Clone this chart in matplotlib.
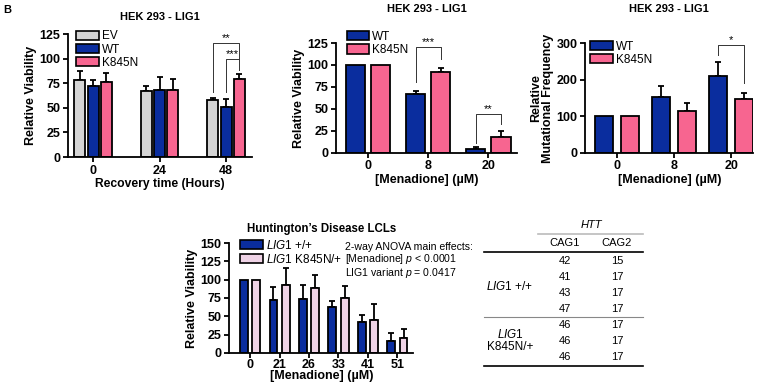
import matplotlib
matplotlib.use('Agg')
import matplotlib.pyplot as plt
import numpy as np
from matplotlib.lines import Line2D
from matplotlib.patches import Patch

plt.rcParams['font.family'] = ['Liberation Sans', 'DejaVu Sans']
plt.rcParams['mathtext.fontset'] = 'custom'
plt.rcParams['mathtext.it'] = 'Liberation Sans:italic'
plt.rcParams['mathtext.rm'] = 'Liberation Sans'
plt.rcParams['mathtext.bf'] = 'Liberation Sans:bold'

GRAY = '#d4d4d4'
BLUE = '#0a2d9e'
PINK = '#f76590'
LPINK = '#efd3e6'

# --- panel 1: recovery time ---
rec_hours = ['0', '24', '48']
rec_ev = [78, 67, 58]
rec_ev_err = [10, 5, 2]
rec_wt = [72, 68, 51]
rec_wt_err = [6, 13, 8]
rec_mut = [76, 68, 79]
rec_mut_err = [10, 11, 5]

# --- panel 2: viability vs menadione ---
men_doses = ['0', '8', '20']
via_wt = [100, 67, 4]
via_wt_err = [0, 3, 3]
via_mut = [100, 92, 18]
via_mut_err = [0, 4, 7]

# --- panel 3: mutational frequency ---
mf_wt = [100, 153, 210]
mf_wt_err = [0, 30, 38]
mf_mut = [100, 115, 146]
mf_mut_err = [0, 20, 17]

# --- panel 4: HD LCLs ---
lcl_doses = ['0', '21', '26', '33', '41', '51']
lcl_wt = [100, 72, 74, 63, 42, 16]
lcl_wt_err = [0, 18, 19, 8, 10, 11]
lcl_het = [100, 93, 89, 75, 45, 21]
lcl_het_err = [0, 23, 18, 17, 22, 11]

# --- table ---
cag1 = [42, 41, 43, 47, 46, 46, 46]
cag2 = [15, 17, 17, 17, 17, 17, 17]

LW = 1.3


def bars(ax, x, vals, errs, off, w, color):
    ax.bar(x + off, vals, w, color=color, edgecolor='black', linewidth=LW, zorder=2)
    errs = np.array(errs, dtype=float)
    m = errs > 0
    ax.errorbar((x + off)[m], np.array(vals)[m], yerr=[np.zeros(m.sum()), errs[m]],
                fmt='none', ecolor='black', elinewidth=LW, capsize=2.5,
                capthick=LW, zorder=1)


def style(ax, ticks, labels, ylim, yticks, pad=2):
    for s in ['top', 'right']:
        ax.spines[s].set_visible(False)
    for s in ['left', 'bottom']:
        ax.spines[s].set_linewidth(LW)
    ax.set_ylim(*ylim)
    ax.set_yticks(yticks)
    ax.set_xticks(ticks)
    ax.set_xticklabels(labels)
    ax.tick_params(width=LW, length=3.5, labelsize=9, pad=2)
    ax.tick_params(axis='x', pad=pad)
    for t in ax.get_xticklabels() + ax.get_yticklabels():
        t.set_fontweight('bold')


def bracket(ax, x1, x2, y, y1, y2, txt):
    ax.plot([x1, x1, x2, x2], [y1, y, y, y2], color='#333333', lw=0.7, zorder=3)
    ax.text((x1 + x2) / 2, y, txt, ha='center', va='bottom', fontsize=8)


def legend(ax, handles, labels, anchor, fs=8.5):
    ax.legend(handles, labels, loc='upper left', bbox_to_anchor=anchor, frameon=False,
              fontsize=fs, handlelength=1.9, handleheight=0.8, labelspacing=0.1,
              handletextpad=0.25, borderaxespad=0, borderpad=0)


def patches(colors):
    return [Patch(facecolor=c, edgecolor='black', linewidth=1.2) for c in colors]


fig = plt.figure(figsize=(7.64, 3.84), dpi=100)
fig.text(0.004, 0.988, 'B', fontsize=8, fontweight='bold', va='top')

# panel 1
ax1 = fig.add_axes([0.089, 0.591, 0.241, 0.320])
x = np.arange(len(rec_hours))
bars(ax1, x, rec_ev, rec_ev_err, -0.2, 0.165, GRAY)
bars(ax1, x, rec_wt, rec_wt_err, 0.0, 0.165, BLUE)
bars(ax1, x, rec_mut, rec_mut_err, 0.2, 0.165, PINK)
style(ax1, x, rec_hours, (0, 125), [0, 25, 50, 75, 100, 125])
ax1.set_xlim(-0.376, 2.39)
bracket(ax1, 1.8, 2.2, 116, 66, 100, '**')
bracket(ax1, 2.0, 2.2, 100, 66, 89, '***')
ax1.set_ylabel('Relative Viability', fontsize=9, fontweight='bold', labelpad=2)
ax1.set_xlabel('Recovery time (Hours)', fontsize=8.7, fontweight='bold', labelpad=1)
ax1.set_title('HEK 293 - LIG1', fontsize=8, fontweight='bold', pad=10)
legend(ax1, patches([GRAY, BLUE, PINK]), ['EV', 'WT', 'K845N'], (0.045, 1.03))

# panel 2
ax2 = fig.add_axes([0.440, 0.602, 0.237, 0.286])
x = np.arange(len(men_doses))
bars(ax2, x, via_wt, via_wt_err, -0.21, 0.32, BLUE)
bars(ax2, x, via_mut, via_mut_err, 0.21, 0.32, PINK)
style(ax2, x, men_doses, (0, 125), [0, 25, 50, 75, 100, 125])
ax2.set_xlim(-0.53, 2.48)
bracket(ax2, 0.79, 1.21, 120, 81, 107, '***')
bracket(ax2, 1.79, 2.21, 44, 11, 33, '**')
ax2.set_ylabel('Relative Viability', fontsize=9, fontweight='bold', labelpad=2)
ax2.set_xlabel('[Menadione] (\u00b5M)', fontsize=9, fontweight='bold', labelpad=1)
ax2.set_title('HEK 293 - LIG1', fontsize=8, fontweight='bold', pad=22)
legend(ax2, patches([BLUE, PINK]), ['WT', 'K845N'], (0.06, 1.11))

# panel 3
ax3 = fig.add_axes([0.766, 0.602, 0.220, 0.286])
x = np.arange(len(men_doses))
bars(ax3, x, mf_wt, mf_wt_err, -0.23, 0.32, BLUE)
bars(ax3, x, mf_mut, mf_mut_err, 0.23, 0.32, PINK)
style(ax3, x, men_doses, (0, 300), [0, 100, 200, 300])
ax3.set_xlim(-0.56, 2.39)
bracket(ax3, 1.77, 2.23, 295, 267, 190, '*')
ax3.set_ylabel('Relative\nMutational Frequency', fontsize=9, fontweight='bold',
               labelpad=2, linespacing=1.0)
ax3.set_xlabel('[Menadione] (\u00b5M)', fontsize=9, fontweight='bold', labelpad=1)
ax3.set_title('HEK 293 - LIG1', fontsize=8, fontweight='bold', pad=22)
legend(ax3, patches([BLUE, PINK]), ['WT', 'K845N'], (0.03, 1.02))

# panel 4
ax4 = fig.add_axes([0.300, 0.081, 0.241, 0.286])
x = np.arange(len(lcl_doses))
bars(ax4, x, lcl_wt, lcl_wt_err, -0.21, 0.26, BLUE)
bars(ax4, x, lcl_het, lcl_het_err, 0.21, 0.26, LPINK)
style(ax4, x, lcl_doses, (0, 150), [0, 25, 50, 75, 100, 125, 150], pad=1)
ax4.set_xlim(-0.71, 5.54)
ax4.set_ylabel('Relative Viability', fontsize=9, fontweight='bold', labelpad=2)
ax4.set_xlabel('[Menadione] (\u00b5M)', fontsize=9, fontweight='bold', labelpad=-1)
ax4.set_title('Huntington\u2019s Disease LCLs', fontsize=8.3, fontweight='bold', pad=8)
legend(ax4, patches([BLUE, LPINK]),
       [r'$\mathit{LIG1}$ +/+', r'$\mathit{LIG1}$ K845N/+'], (0.06, 1.04))
fig.text(0.451, 0.370,
         '2-way ANOVA main effects:\n'
         r'[Menadione] $p$ < 0.0001' '\n'
         r'LIG1 variant $p$ = 0.0417',
         fontsize=7.6, va='top', linespacing=1.0)


# table
def fy(py):
    return 1 - py / 384


def fx(px):
    return px / 764


fig.add_artist(Line2D([fx(538), fx(643)], [fy(234), fy(234)], color='#bbbbbb', lw=1.2))
fig.add_artist(Line2D([fx(484), fx(643)], [fy(252), fy(252)], color='black', lw=1.2))
fig.add_artist(Line2D([fx(484), fx(643)], [fy(317), fy(317)], color='#888888', lw=0.8))
fig.add_artist(Line2D([fx(484), fx(643)], [fy(366), fy(366)], color='black', lw=1.2))
fig.text(fx(591), fy(225), 'HTT', fontsize=8, style='italic', ha='center', va='center')
fig.text(fx(565), fy(243), 'CAG1', fontsize=8, ha='center', va='center')
fig.text(fx(617), fy(243), 'CAG2', fontsize=8, ha='center', va='center')
for i, (a, b) in enumerate(zip(cag1, cag2)):
    yy = fy(261 + i * 16)
    fig.text(fx(565), yy, str(a), fontsize=8, ha='center', va='center')
    fig.text(fx(617), yy, str(b), fontsize=8, ha='center', va='center')
fig.text(fx(510), fy(286), r'$\mathit{LIG1}$ +/+', fontsize=8.5, ha='center', va='center')
fig.text(fx(510), fy(335), r'$\mathit{LIG1}$', fontsize=8.5, ha='center', va='center')
fig.text(fx(510), fy(347), 'K845N/+', fontsize=8.5, ha='center', va='center')

fig.savefig('out.png', dpi=100)
